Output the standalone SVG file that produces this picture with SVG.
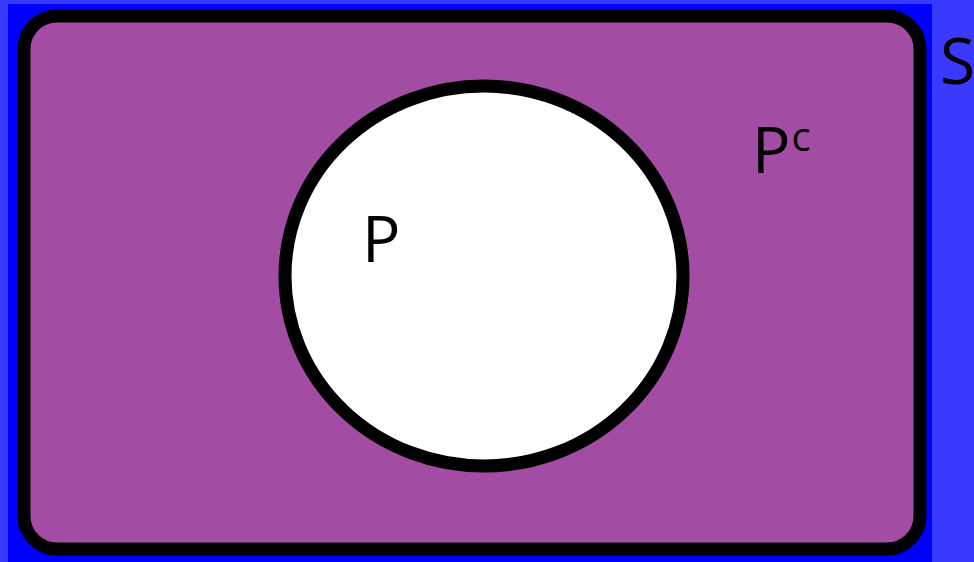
<svg xmlns="http://www.w3.org/2000/svg" width="974" height="562" viewBox="0 0 974 562">
<style>
.lbl{font-family:"Open Sans","Liberation Sans",sans-serif;fill:#000}
.big{font-size:64px}
.sup{font-size:40px}
</style>
<rect x="0" y="0" width="974" height="562" fill="#3a3aff"/>
<rect x="8" y="4" width="924" height="558" fill="#0000ff"/>
<g id="universe">
<rect x="24" y="16" width="896" height="533" rx="33" ry="33" fill="#a34ca3" stroke="#000" stroke-width="13"/>
</g>
<g id="setP">
<ellipse cx="484" cy="276" rx="199" ry="190" fill="#fff" stroke="#000" stroke-width="13"/>
</g>
<g id="connectors"></g>
<text class="lbl big" x="940" y="84">S</text>
<text class="lbl big" x="362" y="262">P</text>
<text class="lbl big" x="752" y="173">P<tspan class="sup" dx="1" dy="-22">c</tspan></text>
</svg>
